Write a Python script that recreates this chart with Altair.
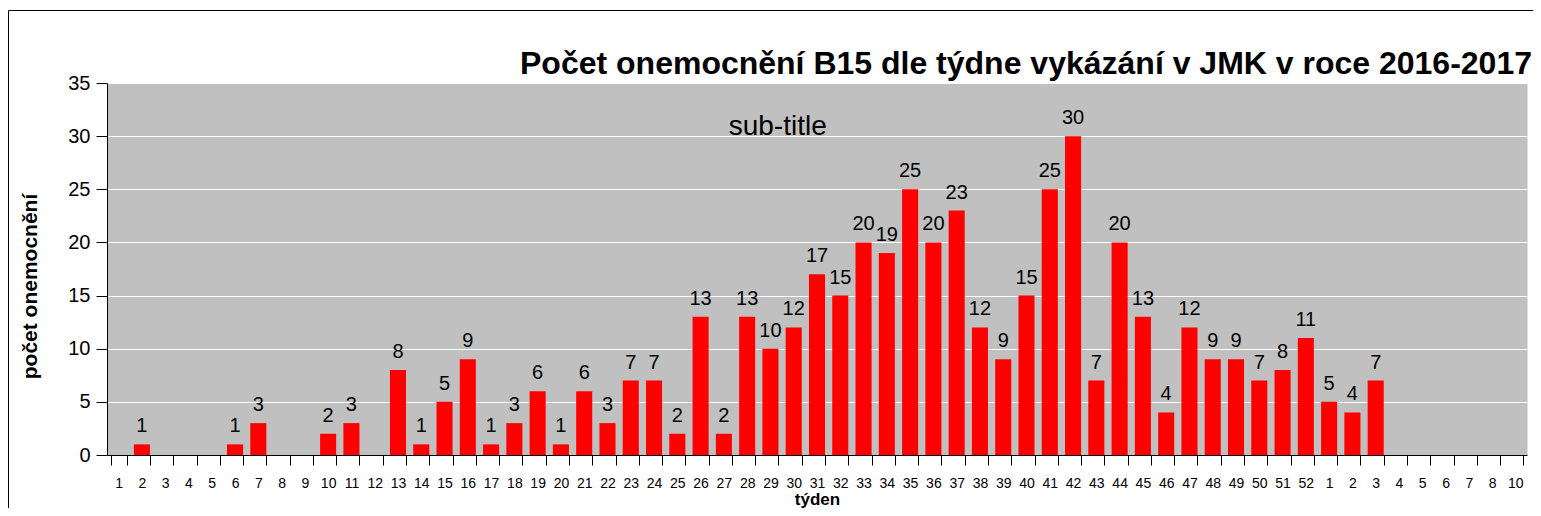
import altair as alt
import pandas as pd

weeks = [str(i) for i in range(1, 53)] + ["1", "2", "3", "4", "5", "6", "7", "8", "10"]
cases = [0, 1, 0, 0, 0, 1, 3, 0, 0, 2,
         3, 0, 8, 1, 5, 9, 1, 3, 6, 1,
         6, 3, 7, 7, 2, 13, 2, 13, 10, 12,
         17, 15, 20, 19, 25, 20, 23, 12, 9, 15,
         25, 30, 7, 20, 13, 4, 12, 9, 9, 7,
         8, 11, 5, 4, 7, 0, 0, 0, 0, 0, 0]
title_text = "Počet onemocnění B15 dle týdne vykázání v JMK v roce 2016-2017"
subtitle_text = "sub-title"
y_title = "počet onemocnění"
x_title = "týden"

df = pd.DataFrame({"idx": list(range(len(weeks))), "week": weeks, "cases": cases})
df["label"] = [str(v) if v > 0 else "" for v in cases]

FONT = "Liberation Sans"
W, H = 1420, 372

label_expr = "[" + ",".join("'" + w + "'" for w in weeks) + "][datum.value]"

xenc = alt.X("idx:O",
             scale=alt.Scale(paddingInner=0.31, paddingOuter=0.155),
             axis=alt.Axis(labelExpr=label_expr, labelAngle=0, labelFontSize=14,
                           labelFont=FONT, labelColor="black", labelPadding=11,
                           tickBand="extent", tickSize=10, tickColor="black",
                           domainColor="black", title=x_title, titleFont=FONT,
                           titleFontSize=17, titleFontWeight="bold", titleY=49,
                           titleBaseline="alphabetic", titleColor="black"))
yenc = alt.Y("cases:Q",
             scale=alt.Scale(domain=[0, 35]),
             axis=alt.Axis(values=[0, 5, 10, 15, 20, 25, 30, 35], labelFontSize=20,
                           labelFont=FONT, labelColor="black", labelPadding=6,
                           tickSize=11, tickColor="black", domainColor="black",
                           gridColor="white", gridWidth=1, title=y_title,
                           titleFont=FONT, titleFontSize=21, titleFontWeight="bold",
                           titleX=-77, titleY=203, titleAngle=-90, titleAlign="center",
                           titleBaseline="middle", titleColor="black"))

base = alt.Chart(df)
bars = base.mark_bar(color="#FF0000").encode(x=xenc, y=yenc)
texts = base.transform_filter("datum.cases > 0").mark_text(
    font=FONT, fontSize=20, baseline="alphabetic", dy=-12, color="black"
).encode(x=alt.X("idx:O"), y=alt.Y("cases:Q"), text="label:N")

one = pd.DataFrame({"t": [subtitle_text]})
sub = alt.Chart(one).mark_text(font=FONT, fontSize=28, baseline="alphabetic",
                               align="center", color="black").encode(
    x=alt.value(670.7), y=alt.value(52), text="t:N")

border_df = pd.DataFrame({"a": [0]})
left_rule = alt.Chart(border_df).mark_rule(color="black", strokeWidth=1).encode(
    x=alt.value(-98.5), y=alt.value(-72.5), y2=alt.value(H + 60))
top_rule = alt.Chart(border_df).mark_rule(color="black", strokeWidth=1).encode(
    x=alt.value(-98.5), x2=alt.value(W + 10), y=alt.value(-72.5))

chart = alt.layer(bars, texts, sub, left_rule, top_rule).properties(
    width=W, height=H,
    background="white",
    title=alt.TitleParams(title_text, font=FONT, fontSize=32, fontWeight="bold",
                          anchor="end", frame="group", color="black", dx=5,
                          offset=0, dy=96, baseline="alphabetic"),
    autosize=alt.AutoSizeParams(type="none"),
    padding={"left": 99, "top": 75, "right": 6, "bottom": 53},
).configure_view(fill="#C0C0C0", stroke="transparent")

chart.save("out.html", embed_options={"renderer": "svg", "actions": False})
